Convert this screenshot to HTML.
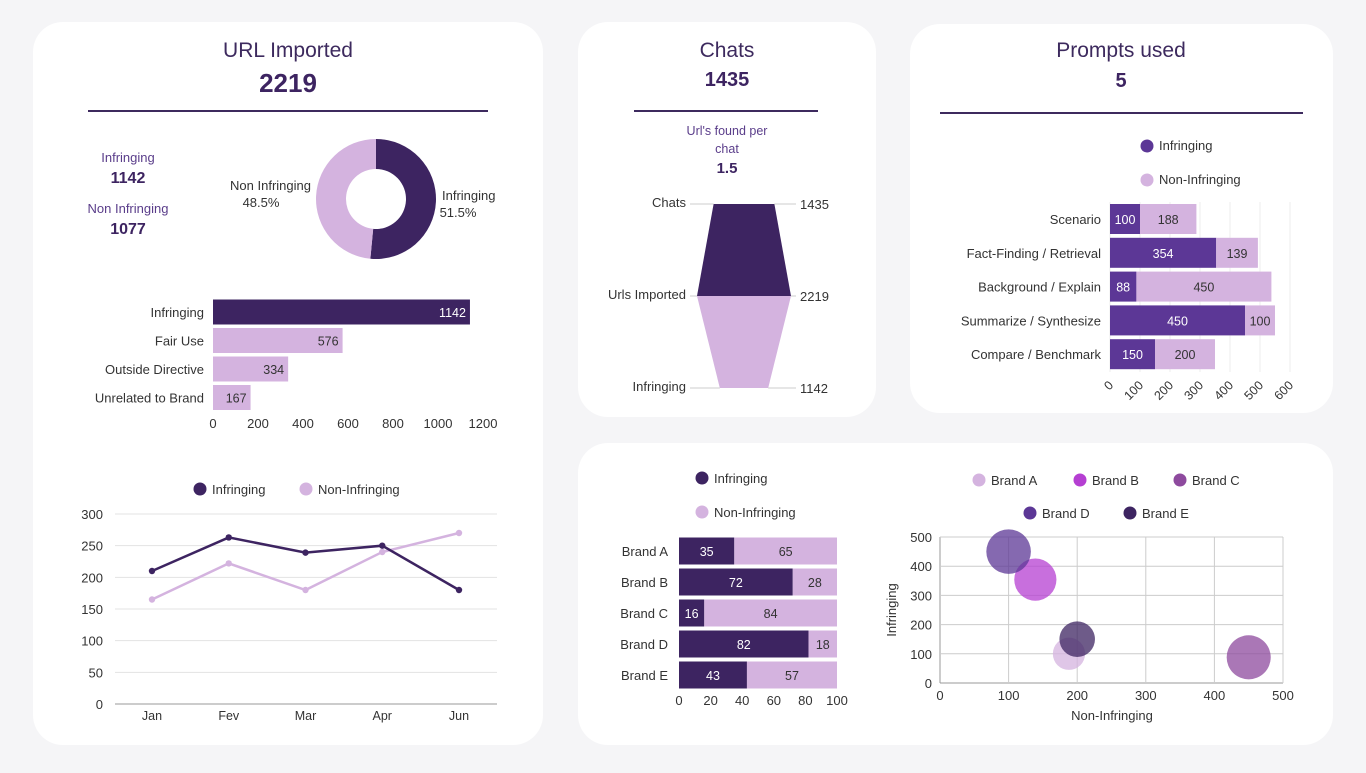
<!DOCTYPE html>
<html><head><meta charset="utf-8"><style>
body{margin:0;background:#f5f5f7;font-family:"Liberation Sans",sans-serif;}
svg text{font-family:"Liberation Sans",sans-serif;}
</style></head><body>
<svg id="s" width="1366" height="768" viewBox="0 0 1366 768" xmlns="http://www.w3.org/2000/svg">
<rect width="1366" height="768" fill="#f5f5f7"/>
<rect x="33" y="22" width="510" height="723" rx="30" fill="#fff"/>
<rect x="578" y="22" width="298" height="395" rx="30" fill="#fff"/>
<rect x="910" y="24" width="423" height="389" rx="30" fill="#fff"/>
<rect x="578" y="443" width="755" height="302" rx="30" fill="#fff"/>

<g fill="#3d2a5e" text-anchor="middle">
<text x="288" y="57" font-size="21">URL Imported</text>
<text x="288" y="92" font-size="26" font-weight="bold" fill="#3d2461">2219</text>
<text x="727" y="57" font-size="21">Chats</text>
<text x="727" y="86" font-size="20" font-weight="bold" fill="#3d2461">1435</text>
<text x="1121" y="57" font-size="21">Prompts used</text>
<text x="1121" y="87" font-size="20" font-weight="bold" fill="#3d2461">5</text>
<text x="128" y="162" font-size="13" fill="#5a3d8a">Infringing</text>
<text x="128" y="183" font-size="16" font-weight="bold" fill="#3d2461">1142</text>
<text x="128" y="213" font-size="13" fill="#5a3d8a">Non Infringing</text>
<text x="128" y="234" font-size="16" font-weight="bold" fill="#3d2461">1077</text>
<text x="727" y="135" font-size="12.5" fill="#5a3d8a">Url's found per</text>
<text x="727" y="153" font-size="12.5" fill="#5a3d8a">chat</text>
<text x="727" y="173" font-size="15" font-weight="bold" fill="#3d2461">1.5</text>
</g>
<line x1="88" y1="111" x2="488" y2="111" stroke="#3d2a5e" stroke-width="2"/>
<line x1="634" y1="111" x2="818" y2="111" stroke="#3d2a5e" stroke-width="2"/>
<line x1="940" y1="113" x2="1303" y2="113" stroke="#3d2a5e" stroke-width="2"/>
<g id="charts"></g>
</svg>
<script>
const NS="http://www.w3.org/2000/svg";
const root=document.getElementById('charts');
function mk(tag,attrs,parent,txt){const e=document.createElementNS(NS,tag);for(const k in attrs)e.setAttribute(k,attrs[k]);if(txt!==undefined)e.textContent=txt;(parent||root).appendChild(e);return e;}
const DARK="#3d2461",LIGHT="#d4b3df",MID="#5c3796",TXT="#333";

// ---- Donut ----
const donutLabels=["Infringing","Non Infringing"];
const donutValues=[51.5,48.5];
(function(){const cx=376,cy=199,R=60,r=30;let a0=-Math.PI/2;const cols=[DARK,LIGHT];
const tot=donutValues.reduce((a,b)=>a+b,0);
donutValues.forEach((v,i)=>{const a1=a0+v/tot*2*Math.PI;const lg=(a1-a0)>Math.PI?1:0;
const p=`M${cx+R*Math.cos(a0)},${cy+R*Math.sin(a0)} A${R},${R} 0 ${lg} 1 ${cx+R*Math.cos(a1)},${cy+R*Math.sin(a1)} L${cx+r*Math.cos(a1)},${cy+r*Math.sin(a1)} A${r},${r} 0 ${lg} 0 ${cx+r*Math.cos(a0)},${cy+r*Math.sin(a0)}Z`;
const el=mk('path',{d:p,fill:cols[i]});


a0=a1;});
mk('text',{x:442,y:200,'font-size':13,fill:TXT},null,donutLabels[0]);
mk('text',{x:458,y:217,'font-size':13,fill:TXT,'text-anchor':'middle'},null,donutValues[0]+'%');
mk('text',{x:311,y:190,'font-size':13,fill:TXT,'text-anchor':'end'},null,donutLabels[1]);
mk('text',{x:261,y:207,'font-size':13,fill:TXT,'text-anchor':'middle'},null,donutValues[1]+'%');
})();

// ---- Horizontal bars (URL categories) ----
const catLabels=["Infringing","Fair Use","Outside Directive","Unrelated to Brand"];
const catValues=[1142,576,334,167];
const catTicks=[0,200,400,600,800,1000,1200];
(function(){const x0=213,sx=v=>x0+v*270/1200;const ys=[312,341,369,397];
catValues.forEach((v,i)=>{const y=ys[0]+i*28.5;
const b=mk('rect',{x:x0,y:y-12.5,width:sx(v)-x0,height:25,fill:i==0?DARK:LIGHT});


mk('text',{x:204,y:y+5,'font-size':13,fill:TXT,'text-anchor':'end'},null,catLabels[i]);
mk('text',{x:sx(v)-4,y:y+5,'font-size':12.5,fill:i==0?'#fff':TXT,'text-anchor':'end'},null,v);});
catTicks.forEach(t=>mk('text',{x:sx(t),y:428,'font-size':13,fill:TXT,'text-anchor':'middle'},null,t));
})();

// ---- Line chart ----
const months=["Jan","Fev","Mar","Apr","Jun"];
const lineInf=[210,263,239,250,180];
const lineNon=[165,222,180,240,270];
const lineTicks=[0,50,100,150,200,250,300];
(function(){const sy=v=>704-v*190/300,sx=i=>152+i*76.75;
lineTicks.forEach(t=>{mk('line',{x1:115,x2:497,y1:sy(t),y2:sy(t),stroke:t==0?'#999':'#e3e3e3','stroke-width':1});
mk('text',{x:103,y:sy(t)+5,'font-size':13,fill:TXT,'text-anchor':'end'},null,t);});
months.forEach((m,i)=>mk('text',{x:sx(i),y:720,'font-size':12.5,fill:TXT,'text-anchor':'middle'},null,m));
[[lineNon,LIGHT,'non-infringing'],[lineInf,DARK,'infringing']].forEach(([d,c,n])=>{
const pl=mk('polyline',{points:d.map((v,i)=>sx(i)+','+sy(v)).join(' '),fill:'none',stroke:c,'stroke-width':2.5});


d.forEach((v,i)=>mk('circle',{cx:sx(i),cy:sy(v),r:3.2,fill:c}));});
mk('circle',{cx:200,cy:489,r:6.5,fill:DARK});mk('text',{x:212,y:494,'font-size':13,fill:TXT},null,'Infringing');
mk('circle',{cx:306,cy:489,r:6.5,fill:LIGHT});mk('text',{x:318,y:494,'font-size':13,fill:TXT},null,'Non-Infringing');
})();

// ---- Funnel ----
const funnelLabels=["Chats","Urls Imported","Infringing"];
const funnelValues=[1435,2219,1142];
(function(){const cx=744,w=v=>v*94/2219/2,ys=[204,296,388];
const h=funnelValues.map(w);
const a=mk('path',{d:`M${cx-h[0]},${ys[0]} L${cx+h[0]},${ys[0]} L${cx+h[1]},${ys[1]} L${cx-h[1]},${ys[1]}Z`,fill:DARK});


const b=mk('path',{d:`M${cx-h[1]},${ys[1]} L${cx+h[1]},${ys[1]} L${cx+h[2]},${ys[2]} L${cx-h[2]},${ys[2]}Z`,fill:LIGHT});


funnelLabels.forEach((l,i)=>{mk('text',{x:686,y:ys[i]+3,'font-size':13,fill:TXT,'text-anchor':'end'},null,l);
mk('line',{x1:690,x2:cx-h[i],y1:ys[i],y2:ys[i],stroke:'#ccc'});mk('line',{x1:cx+h[i],x2:796,y1:ys[i],y2:ys[i],stroke:'#ccc'});
mk('text',{x:800,y:ys[i]+5,'font-size':13,fill:TXT},null,funnelValues[i]);});
})();

// ---- Prompts stacked bars ----
const promptCats=["Scenario","Fact-Finding / Retrieval","Background / Explain","Summarize / Synthesize","Compare / Benchmark"];
const promptInf=[100,354,88,450,150];
const promptNon=[188,139,450,100,200];
const promptTicks=[0,100,200,300,400,500,600];
(function(){const x0=1110,sx=v=>x0+v*0.3;
promptTicks.forEach(t=>{mk('line',{x1:sx(t),x2:sx(t),y1:202,y2:372,stroke:'#eee'});
mk('text',{x:sx(t)+4,y:386,'font-size':12.5,fill:TXT,'text-anchor':'end',transform:`rotate(-45 ${sx(t)+4} 386)`},null,t);});
promptCats.forEach((c,i)=>{const y=219+i*33.8;
const r1=mk('rect',{x:x0,y:y-15,width:sx(promptInf[i])-x0,height:30,fill:MID});


const r2=mk('rect',{x:sx(promptInf[i]),y:y-15,width:promptNon[i]*0.3,height:30,fill:LIGHT});


mk('text',{x:1101,y:y+5,'font-size':13,fill:TXT,'text-anchor':'end'},null,c);
mk('text',{x:(x0+sx(promptInf[i]))/2,y:y+5,'font-size':12.5,fill:'#fff','text-anchor':'middle'},null,promptInf[i]);
mk('text',{x:sx(promptInf[i])+promptNon[i]*0.15,y:y+5,'font-size':12.5,fill:TXT,'text-anchor':'middle'},null,promptNon[i]);});
mk('circle',{cx:1147,cy:146,r:6.5,fill:MID});mk('text',{x:1159,y:150,'font-size':13,fill:TXT},null,'Infringing');
mk('circle',{cx:1147,cy:180,r:6.5,fill:LIGHT});mk('text',{x:1159,y:184,'font-size':13,fill:TXT},null,'Non-Infringing');
})();

// ---- Brand 100% bars ----
const brands=["Brand A","Brand B","Brand C","Brand D","Brand E"];
const brandInf=[35,72,16,82,43];
const brandNon=[65,28,84,18,57];
const brandTicks=[0,20,40,60,80,100];
(function(){const x0=679,sx=v=>x0+v*1.58;
brands.forEach((b,i)=>{const y=551+i*31;
const r1=mk('rect',{x:x0,y:y-13.5,width:brandInf[i]*1.58,height:27,fill:DARK});


const r2=mk('rect',{x:sx(brandInf[i]),y:y-13.5,width:brandNon[i]*1.58,height:27,fill:LIGHT});


mk('text',{x:668,y:y+5,'font-size':13,fill:TXT,'text-anchor':'end'},null,b);
mk('text',{x:x0+brandInf[i]*0.79,y:y+5,'font-size':12.5,fill:'#fff','text-anchor':'middle'},null,brandInf[i]);
mk('text',{x:sx(brandInf[i])+brandNon[i]*0.79,y:y+5,'font-size':12.5,fill:TXT,'text-anchor':'middle'},null,brandNon[i]);});
brandTicks.forEach(t=>mk('text',{x:sx(t),y:705,'font-size':13,fill:TXT,'text-anchor':'middle'},null,t));
mk('circle',{cx:702,cy:478,r:6.5,fill:DARK});mk('text',{x:714,y:483,'font-size':13,fill:TXT},null,'Infringing');
mk('circle',{cx:702,cy:512,r:6.5,fill:LIGHT});mk('text',{x:714,y:517,'font-size':13,fill:TXT},null,'Non-Infringing');
})();

// ---- Bubble scatter ----
const bubbleNames=["Brand A","Brand B","Brand C","Brand D","Brand E"];
const bubbleNon=[188,139,450,100,200];
const bubbleInf=[100,354,88,450,150];
const bubbleSize=[288,493,538,550,350];
const bubbleTicks=[0,100,200,300,400,500];
(function(){const sx=v=>940+v*343/500,sy=v=>683-v*146/500;const cols=[LIGHT,"#b53fd2","#8e4a9e",MID,DARK];
bubbleTicks.forEach(t=>{mk('line',{x1:sx(t),x2:sx(t),y1:537,y2:683,stroke:t==0?'#999':'#ccc'});
mk('line',{x1:940,x2:1283,y1:sy(t),y2:sy(t),stroke:t==0?'#999':'#ccc'});
mk('text',{x:sx(t),y:700,'font-size':13,fill:TXT,'text-anchor':'middle'},null,t);
mk('text',{x:932,y:sy(t)+5,'font-size':13,fill:TXT,'text-anchor':'end'},null,t);});
bubbleNames.forEach((n,i)=>{const c=mk('circle',{cx:sx(bubbleNon[i]),cy:sy(bubbleInf[i]),r:Math.sqrt(bubbleSize[i])*0.95,fill:cols[i],'fill-opacity':0.75});

});
const lp=[[979,480],[1080,480],[1180,480],[1030,513],[1130,513]];
bubbleNames.forEach((n,i)=>{mk('circle',{cx:lp[i][0],cy:lp[i][1],r:6.5,fill:cols[i]});mk('text',{x:lp[i][0]+12,y:lp[i][1]+5,'font-size':13,fill:TXT},null,n);});
mk('text',{x:1112,y:720,'font-size':13,fill:TXT,'text-anchor':'middle'},null,'Non-Infringing');
mk('text',{x:896,y:610,'font-size':13,fill:TXT,'text-anchor':'middle',transform:'rotate(-90 896 610)'},null,'Infringing');
})();
</script>
</body></html>
